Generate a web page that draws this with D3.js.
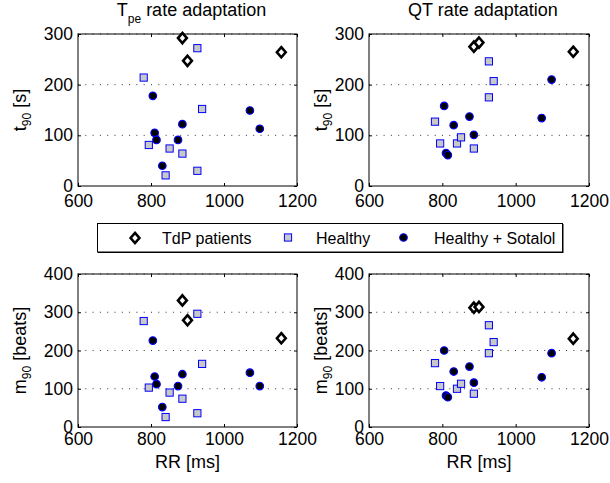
<!DOCTYPE html>
<html>
<head>
<meta charset="utf-8">
<script src="https://cdn.jsdelivr.net/npm/d3@7"></script>
<style>
  body { margin: 0; background: #fff; }
  svg text { font-family: "Liberation Sans", Arial, Helvetica, sans-serif; fill: #000; }
</style>
</head>
<body>
<svg id="chart"></svg>
<script>
// RR interval per subject (same subjects in every panel)
let rrTdp = [886, 900, 1157];
let rrHealthy = [780, 794, 840, 851, 886, 927, 927, 940];
let rrSotalol = [805, 810, 815, 831, 874, 886, 1071, 1098];

// Tpe rate adaptation
let tpeT90Tdp = [292, 247, 264];
let tpeT90Healthy = [214, 81, 21, 74, 64, 272, 30, 152];
let tpeT90Sotalol = [178, 105, 91, 40, 91, 122, 149, 113];
let tpeM90Tdp = [331, 279, 232];
let tpeM90Healthy = [277, 103, 26, 90, 74, 296, 36, 165];
let tpeM90Sotalol = [226, 132, 112, 52, 107, 138, 142, 107];

// QT rate adaptation
let qtT90Tdp = [275, 283, 265];
let qtT90Healthy = [127, 84, 84, 96, 74, 246, 175, 207];
let qtT90Sotalol = [158, 65, 61, 120, 137, 101, 134, 210];
let qtM90Tdp = [312, 314, 231];
let qtM90Healthy = [167, 107, 100, 113, 87, 266, 193, 222];
let qtM90Sotalol = [200, 82, 78, 145, 158, 116, 130, 193];

let xTicks = [600, 800, 1000, 1200];
let t90Ticks = [0, 100, 200, 300];
let m90Ticks = [0, 100, 200, 300, 400];

let legendLabels = ["TdP patients", "Healthy", "Healthy + Sotalol"];

let width = 610;
let height = 483;

let svg = d3.select("#chart").attr("width", width).attr("height", height);
svg.append("rect").attr("width", width).attr("height", height).attr("fill", "#fff");

let panels = [
  { left: 78, right: 297, top: 34, bottom: 186, yTicks: t90Ticks, tdp: tpeT90Tdp, healthy: tpeT90Healthy, sotalol: tpeT90Sotalol,
    title: ["T", "pe", " rate adaptation"], ylab: ["t", "90", " [s]"], ylabX: 26, xPad: 9, xlab: false },
  { left: 369, right: 589, top: 34, bottom: 186, yTicks: t90Ticks, tdp: qtT90Tdp, healthy: qtT90Healthy, sotalol: qtT90Sotalol,
    title: ["QT rate adaptation", "", ""], ylab: ["t", "90", " [s]"], ylabX: 327, xPad: 9, xlab: false },
  { left: 78, right: 297, top: 274, bottom: 427, yTicks: m90Ticks, tdp: tpeM90Tdp, healthy: tpeM90Healthy, sotalol: tpeM90Sotalol,
    title: null, ylab: ["m", "90", " [beats]"], ylabX: 26, xPad: 6, xlab: true },
  { left: 369, right: 589, top: 274, bottom: 427, yTicks: m90Ticks, tdp: qtM90Tdp, healthy: qtM90Healthy, sotalol: qtM90Sotalol,
    title: null, ylab: ["m", "90", " [beats]"], ylabX: 327, xPad: 6, xlab: true }
];

let diamondPath = (hw, hh) => "M0," + (-hh) + "L" + hw + ",0L0," + hh + "L" + (-hw) + ",0Z";

let drawTdp = (g, x, y) => {
  g.append("path").attr("d", diamondPath(4.4, 5.1))
    .attr("transform", "translate(" + x + "," + y + ")")
    .attr("fill", "#fff").attr("stroke", "#000").attr("stroke-width", 2.6)
    .attr("stroke-linejoin", "miter");
};
let drawHealthy = (g, x, y) => {
  g.append("rect").attr("x", x - 3.6).attr("y", y - 3.6).attr("width", 7.2).attr("height", 7.2)
    .attr("fill", "#c8c8c8").attr("stroke", "#0000ff").attr("stroke-width", 1);
};
let drawSotalol = (g, x, y) => {
  g.append("circle").attr("cx", x).attr("cy", y).attr("r", 3.8)
    .attr("fill", "#000").attr("stroke", "#0000ff").attr("stroke-width", 1.1);
};

panels.forEach((p) => {
  let xScale = d3.scaleLinear().domain([600, 1200]).range([p.left, p.right]);
  let yMax = p.yTicks[p.yTicks.length - 1];
  let yScale = d3.scaleLinear().domain([0, yMax]).range([p.bottom, p.top]);
  let g = svg.append("g");

  // dotted horizontal grid
  g.selectAll(".grid").data(p.yTicks.slice(1)).enter().append("line")
    .attr("x1", p.left).attr("x2", p.right)
    .attr("y1", (d) => yScale(d)).attr("y2", (d) => yScale(d))
    .attr("stroke", "#333").attr("stroke-width", 1).attr("stroke-dasharray", "1,6.3");

  // axes with inward ticks
  let xAxis = d3.axisBottom(xScale).tickValues(xTicks).tickFormat(d3.format("d"))
    .tickSizeInner(-3).tickSizeOuter(0).tickPadding(p.xPad);
  let yAxis = d3.axisLeft(yScale).tickValues(p.yTicks).tickFormat(d3.format("d"))
    .tickSizeInner(-3).tickSizeOuter(0).tickPadding(5);
  let xTop = d3.axisTop(xScale).tickValues(xTicks).tickSizeInner(-3).tickSizeOuter(0).tickFormat("");
  let yRight = d3.axisRight(yScale).tickValues(p.yTicks).tickSizeInner(-3).tickSizeOuter(0).tickFormat("");

  let gx = g.append("g").attr("transform", "translate(0," + p.bottom + ")").call(xAxis);
  let gy = g.append("g").attr("transform", "translate(" + p.left + ",0)").call(yAxis);
  let gt = g.append("g").attr("transform", "translate(0," + p.top + ")").call(xTop);
  let gr = g.append("g").attr("transform", "translate(" + p.right + ",0)").call(yRight);
  [gx, gy, gt, gr].forEach((a) => {
    a.select(".domain").remove();
    a.selectAll("line").attr("stroke", "#000");
    a.selectAll("text").attr("font-size", 17.5).attr("font-family", "Liberation Sans, Arial, sans-serif");
  });

  g.append("rect").attr("x", p.left).attr("y", p.top)
    .attr("width", p.right - p.left).attr("height", p.bottom - p.top)
    .attr("fill", "none").attr("stroke", "#000").attr("stroke-width", 1);

  // markers
  p.tdp.forEach((v, i) => drawTdp(g, xScale(rrTdp[i]), yScale(v)));
  p.healthy.forEach((v, i) => drawHealthy(g, xScale(rrHealthy[i]), yScale(v)));
  p.sotalol.forEach((v, i) => drawSotalol(g, xScale(rrSotalol[i]), yScale(v)));

  let cx = (p.left + p.right) / 2;
  if (p.title) {
    let t = g.append("text").attr("x", cx + 4).attr("y", 16).attr("text-anchor", "middle").attr("font-size", 18);
    t.append("tspan").text(p.title[0]);
    if (p.title[1]) {
      t.append("tspan").attr("font-size", 12).attr("dy", 7).text(p.title[1]);
      t.append("tspan").attr("dy", -7).text(p.title[2]);
    }
  }

  let cy = (p.top + p.bottom) / 2;
  let yl = g.append("text").attr("transform", "translate(" + p.ylabX + "," + cy + ") rotate(-90)")
    .attr("text-anchor", "middle").attr("font-size", 18);
  yl.append("tspan").text(p.ylab[0]);
  yl.append("tspan").attr("font-size", 12).attr("dy", 4.5).text(p.ylab[1]);
  yl.append("tspan").attr("dy", -4.5).text(p.ylab[2]);

  if (p.xlab) {
    g.append("text").attr("x", cx).attr("y", 468).attr("text-anchor", "middle")
      .attr("font-size", 18).text("RR [ms]");
  }
});

// legend
let lg = svg.append("g");
lg.append("rect").attr("x", 97.5).attr("y", 223.5).attr("width", 465).attr("height", 28.5)
  .attr("fill", "#fff").attr("stroke", "#000").attr("stroke-width", 1);
lg.append("line").attr("x1", 98).attr("x2", 563).attr("y1", 252.5).attr("y2", 252.5).attr("stroke", "#000").attr("stroke-width", 1);
lg.append("line").attr("x1", 563).attr("x2", 563).attr("y1", 224).attr("y2", 253).attr("stroke", "#000").attr("stroke-width", 1);
drawTdp(lg, 135, 238);
drawHealthy(lg, 288, 237.5);
drawSotalol(lg, 403.5, 237.5);
let legendX = [162, 316, 434];
legendLabels.forEach((l, i) => {
  lg.append("text").attr("x", legendX[i]).attr("y", 244).attr("font-size", 16).text(l);
});
</script>
</body>
</html>
